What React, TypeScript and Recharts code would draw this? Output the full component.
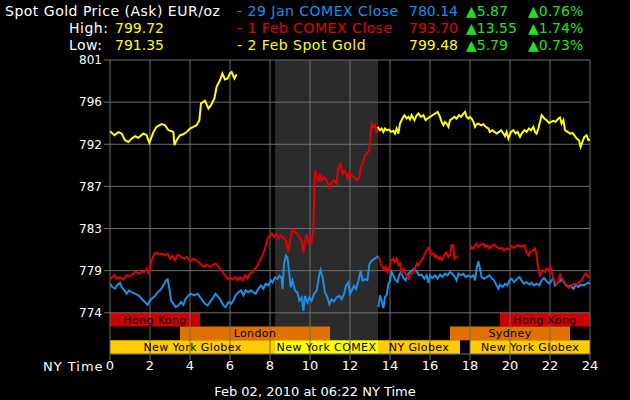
import React from "react";
import {
  ComposedChart,
  Line,
  XAxis,
  YAxis,
  ReferenceArea,
  ReferenceLine,
} from "recharts";

// hours (NY time) / EUR per oz
const blueEarly = [
  [0, 777.1], [0.12, 776.75], [0.25, 776.57], [0.38, 777.0], [0.5, 777.2], [0.58, 776.75],
  [0.72, 776.4], [0.83, 776.04], [0.95, 776.4], [1.08, 776.2], [1.25, 776.04], [1.42, 775.86],
  [1.58, 775.5], [1.75, 775.14], [1.88, 774.86], [2.0, 775.32], [2.12, 775.57], [2.25, 775.79],
  [2.38, 776.2], [2.5, 776.4], [2.62, 776.75], [2.72, 777.1], [2.8, 777.46], [2.88, 777.57],
  [2.97, 776.57], [3.05, 775.32], [3.17, 774.96], [3.28, 774.6], [3.42, 774.78], [3.55, 775.14],
  [3.67, 774.86], [3.78, 775.5], [3.92, 775.86], [4.05, 776.04], [4.22, 775.86], [4.38, 776.04],
  [4.5, 775.68], [4.62, 775.32], [4.75, 774.96], [4.88, 774.79], [5.0, 775.14], [5.17, 775.68],
  [5.28, 776.04], [5.42, 775.68], [5.55, 775.32], [5.67, 774.79], [5.78, 774.6], [5.92, 775.14],
  [6.05, 774.96], [6.17, 775.32], [6.28, 775.86], [6.42, 776.2], [6.55, 776.4], [6.67, 775.86],
  [6.78, 776.4], [6.92, 776.2], [7.05, 776.4], [7.17, 776.2], [7.28, 776.04], [7.42, 776.57],
  [7.55, 776.93], [7.67, 776.57], [7.78, 777.1], [7.92, 776.93], [8.05, 777.46], [8.13, 777.25],
  [8.25, 777.78], [8.37, 777.6], [8.47, 777.96], [8.58, 777.78], [8.63, 776.53], [8.7, 779.2],
  [8.8, 780.1], [8.87, 779.92], [8.97, 778.14], [9.03, 776.71], [9.13, 777.43], [9.25, 776.36],
  [9.37, 776.18], [9.47, 775.29], [9.58, 775.64], [9.67, 774.21], [9.75, 775.82], [9.87, 775.1],
  [9.97, 775.64], [10.08, 775.29], [10.2, 776.0], [10.33, 776.36], [10.47, 778.14], [10.53, 778.57],
  [10.63, 777.78], [10.75, 776.18], [10.87, 775.64], [10.97, 774.93], [11.08, 775.46], [11.2, 775.21],
  [11.33, 775.64], [11.47, 775.82], [11.58, 775.46], [11.7, 776.0], [11.8, 776.89], [11.92, 777.25],
  [12.0, 776.0], [12.08, 776.36], [12.2, 776.89], [12.3, 776.53], [12.42, 777.43], [12.53, 778.5],
  [12.63, 777.43], [12.75, 777.6], [12.87, 777.5], [12.97, 779.2], [13.08, 779.57], [13.2, 779.75],
  [13.33, 779.92], [13.42, 780.1],
];

const blueLate = [
  [13.42, 774.6], [13.5, 775.86], [13.58, 775.32], [13.67, 774.5], [13.75, 775.68], [13.83, 775.86],
  [13.92, 777.1], [14.0, 777.46], [14.08, 778.36], [14.17, 778.0], [14.28, 777.46], [14.38, 777.29],
  [14.45, 778.0], [14.55, 778.36], [14.67, 777.71], [14.78, 777.46], [14.88, 778.07], [15.0, 778.36],
  [15.12, 778.54], [15.22, 778.71], [15.33, 778.43], [15.45, 778.0], [15.58, 778.07], [15.72, 777.64],
  [15.83, 778.0], [15.92, 777.21], [16.0, 778.0], [16.12, 777.71], [16.25, 778.0], [16.38, 777.64],
  [16.5, 778.07], [16.62, 777.82], [16.75, 778.18], [16.88, 778.0], [17.0, 778.36], [17.12, 778.18],
  [17.25, 777.82], [17.33, 777.46], [17.42, 778.18], [17.55, 778.0], [17.67, 778.18], [17.78, 777.82],
  [17.92, 778.0], [18.05, 777.82], [18.17, 778.0], [18.25, 777.46], [18.33, 778.71], [18.42, 779.5],
  [18.5, 778.71], [18.58, 777.82], [18.7, 777.64], [18.83, 777.82], [18.97, 778.0], [19.08, 777.71],
  [19.2, 777.46], [19.33, 776.93], [19.42, 776.57], [19.5, 777.0], [19.63, 776.75], [19.75, 777.1],
  [19.87, 776.93], [19.97, 777.46], [20.08, 777.64], [20.2, 777.29], [20.33, 777.57], [20.47, 777.82],
  [20.58, 777.46], [20.7, 777.1], [20.83, 777.29], [20.97, 777.0], [21.08, 777.21], [21.2, 776.93],
  [21.33, 777.1], [21.47, 776.93], [21.58, 777.46], [21.7, 777.71], [21.83, 777.36], [21.97, 777.1],
  [22.08, 777.46], [22.17, 777.64], [22.25, 776.93], [22.37, 777.21], [22.5, 777.36], [22.58, 777.64],
  [22.67, 777.29], [22.8, 776.93], [22.92, 776.75], [23.03, 776.93], [23.17, 776.57], [23.3, 777.0],
  [23.42, 776.75], [23.53, 777.0], [23.67, 776.93], [23.8, 777.1], [23.92, 777.21], [24.0, 777.1],
];

const redEarly = [
  [0, 777.64], [0.12, 777.8], [0.22, 778.0], [0.33, 777.64], [0.5, 777.8], [0.67, 777.57],
  [0.83, 778.0], [1.0, 777.93], [1.17, 778.18], [1.28, 778.43], [1.42, 778.18], [1.58, 778.36],
  [1.75, 778.43], [1.83, 778.7], [1.92, 778.25], [2.0, 778.7], [2.08, 779.6], [2.22, 780.3],
  [2.33, 780.43], [2.5, 780.21], [2.62, 780.3], [2.75, 780.14], [2.88, 780.3], [3.0, 779.78],
  [3.12, 780.07], [3.25, 779.6], [3.38, 780.21], [3.55, 779.96], [3.72, 779.78], [3.83, 779.96],
  [4.0, 779.5], [4.17, 779.78], [4.42, 779.43], [4.58, 779.07], [4.72, 778.9], [4.83, 779.14],
  [5.0, 778.9], [5.17, 779.14], [5.28, 779.25], [5.38, 779.07], [5.5, 778.7], [5.62, 778.36],
  [5.75, 778.0], [5.88, 777.64], [6.0, 777.7], [6.12, 777.57], [6.25, 777.8], [6.38, 777.46],
  [6.5, 777.8], [6.62, 777.46], [6.75, 778.0], [6.88, 777.64], [7.0, 778.18], [7.12, 778.36],
  [7.25, 778.7], [7.38, 779.07], [7.5, 779.6], [7.62, 780.14], [7.75, 780.86], [7.88, 781.93],
  [8.0, 782.28], [8.08, 782.46], [8.22, 782.1], [8.3, 782.43], [8.42, 781.9], [8.53, 782.25],
  [8.67, 782.07], [8.8, 781.71], [8.92, 780.46], [9.03, 782.07], [9.13, 782.96], [9.25, 782.6],
  [9.37, 782.43], [9.47, 782.07], [9.58, 781.71], [9.67, 780.46], [9.75, 781.53], [9.83, 782.43],
  [9.92, 781.36], [10.0, 781.9], [10.08, 781.53], [10.17, 783.14], [10.25, 789.2], [10.33, 788.67],
  [10.42, 787.96], [10.5, 788.85], [10.58, 788.14], [10.7, 788.5], [10.83, 788.14], [10.97, 787.35],
  [11.08, 787.96], [11.2, 788.14], [11.33, 787.78], [11.42, 789.56], [11.53, 789.92], [11.63, 788.85],
  [11.75, 789.2], [11.87, 788.32], [11.97, 789.03], [12.08, 788.67], [12.2, 788.5], [12.33, 788.14],
  [12.47, 788.5], [12.53, 789.56], [12.63, 789.92], [12.75, 790.81], [12.87, 790.99], [12.97, 791.53],
  [13.08, 794.2], [13.17, 793.85], [13.25, 794.03], [13.33, 793.31], [13.42, 793.7],
];

const redMid = [
  [13.42, 779.96], [13.47, 779.78], [13.55, 779.07], [13.62, 778.9], [13.72, 778.54], [13.78, 778.9],
  [13.88, 778.36], [13.95, 778.71], [14.05, 779.6], [14.17, 779.78], [14.25, 779.43], [14.33, 779.78],
  [14.42, 779.07], [14.5, 779.25], [14.58, 778.36], [14.67, 778.71], [14.75, 778.18], [14.83, 778.0],
  [14.92, 777.64], [15.0, 778.0], [15.08, 778.18], [15.17, 778.36], [15.25, 778.71], [15.33, 779.25],
  [15.42, 779.07], [15.5, 779.43], [15.58, 779.6], [15.67, 779.96], [15.75, 780.32], [15.83, 780.68],
  [15.92, 780.93], [16.0, 780.68], [16.08, 780.21], [16.17, 780.32], [16.25, 779.96], [16.33, 780.07],
  [16.42, 779.78], [16.5, 779.96], [16.58, 779.6], [16.67, 779.96], [16.75, 780.32], [16.83, 780.43],
  [16.92, 779.96], [17.0, 780.14], [17.08, 781.21], [17.17, 781.21], [17.22, 779.78], [17.3, 779.96],
  [17.38, 779.86],
];

const redLate = [
  [18.0, 780.78], [18.08, 781.04], [18.17, 780.86], [18.25, 781.14], [18.33, 781.39], [18.42, 781.04],
  [18.55, 781.29], [18.67, 781.39], [18.75, 781.04], [18.87, 781.21], [18.97, 780.86], [19.08, 781.14],
  [19.2, 781.29], [19.33, 781.04], [19.47, 780.86], [19.58, 780.93], [19.7, 780.68], [19.83, 780.86],
  [19.97, 780.78], [20.08, 781.14], [20.2, 780.93], [20.33, 781.14], [20.47, 781.21], [20.58, 781.04],
  [20.7, 781.21], [20.83, 780.5], [20.92, 780.14], [21.03, 780.57], [21.17, 780.68], [21.25, 780.86],
  [21.33, 780.14], [21.42, 778.54], [21.5, 778.0], [21.63, 778.54], [21.75, 778.36], [21.83, 778.71],
  [21.92, 778.54], [22.03, 778.9], [22.13, 778.0], [22.2, 777.46], [22.3, 777.1], [22.42, 777.29],
  [22.5, 778.18], [22.58, 777.64], [22.67, 777.46], [22.75, 777.1], [22.87, 776.93], [22.97, 776.64],
  [23.08, 776.93], [23.2, 777.1], [23.33, 777.0], [23.47, 777.29], [23.58, 777.46], [23.7, 778.0],
  [23.8, 778.18], [23.92, 777.82], [24.0, 778.0],
];

const yellowEarly = [
  [0, 793.4], [0.22, 792.97], [0.42, 793.3], [0.58, 793.15], [0.75, 792.43], [0.92, 792.25],
  [1.08, 792.6], [1.25, 792.86], [1.42, 792.7], [1.67, 793.15], [1.83, 792.97], [1.97, 792.15],
  [2.17, 793.3], [2.33, 793.86], [2.58, 794.15], [2.75, 794.04], [2.92, 793.5], [3.08, 793.4],
  [3.17, 793.3], [3.22, 791.9], [3.33, 792.43], [3.5, 792.97], [3.67, 793.07], [3.83, 793.3],
  [4.0, 793.68], [4.17, 793.86], [4.33, 794.04], [4.47, 794.57], [4.55, 796.36], [4.75, 796.64],
  [4.92, 795.82], [5.05, 796.18], [5.22, 796.9], [5.33, 798.14], [5.5, 798.86], [5.62, 799.57],
  [5.75, 798.93], [5.88, 799.04], [6.0, 799.6], [6.08, 799.72], [6.22, 799.04], [6.33, 799.48],
];

const yellowLate = [
  [13.38, 793.86], [13.5, 793.5], [13.58, 793.68], [13.67, 793.32], [13.75, 793.68], [13.83, 793.5],
  [13.95, 793.57], [14.05, 793.32], [14.17, 793.43], [14.25, 793.14], [14.33, 793.68], [14.42, 793.14],
  [14.5, 794.21], [14.62, 794.75], [14.72, 795.1], [14.83, 794.75], [14.92, 794.93], [15.0, 794.64],
  [15.08, 795.1], [15.22, 794.57], [15.33, 795.1], [15.42, 795.28], [15.55, 794.93], [15.67, 795.1],
  [15.78, 794.57], [15.88, 794.75], [16.0, 794.93], [16.12, 795.1], [16.25, 795.28], [16.38, 795.46],
  [16.5, 794.93], [16.58, 794.39], [16.67, 794.03], [16.75, 794.39], [16.83, 794.21], [16.92, 793.86],
  [17.0, 794.57], [17.12, 794.75], [17.22, 794.93], [17.33, 794.75], [17.45, 795.1], [17.55, 794.93],
  [17.67, 795.28], [17.75, 795.46], [17.83, 794.93], [17.92, 794.75], [18.0, 794.93], [18.08, 794.75],
  [18.17, 794.39], [18.25, 793.86], [18.33, 794.14], [18.42, 794.21], [18.55, 794.03], [18.67, 794.14],
  [18.78, 793.86], [18.92, 793.68], [19.0, 793.32], [19.12, 793.5], [19.22, 793.32], [19.33, 793.14],
  [19.45, 793.32], [19.55, 793.5], [19.67, 793.14], [19.75, 792.86], [19.83, 793.32], [19.92, 792.61],
  [20.05, 793.32], [20.17, 793.5], [20.28, 793.14], [20.38, 793.32], [20.5, 792.79], [20.58, 793.14],
  [20.72, 793.5], [20.83, 793.32], [20.95, 793.68], [21.05, 793.5], [21.17, 793.86], [21.25, 793.32],
  [21.33, 793.14], [21.42, 793.68], [21.5, 794.39], [21.58, 795.1], [21.72, 794.75], [21.83, 794.57],
  [21.95, 794.28], [22.05, 794.39], [22.17, 794.5], [22.28, 794.39], [22.42, 794.75], [22.5, 794.86],
  [22.58, 794.21], [22.67, 794.57], [22.75, 793.5], [22.88, 793.32], [23.0, 793.14], [23.12, 793.21],
  [23.22, 792.96], [23.33, 792.61], [23.45, 792.43], [23.53, 791.71], [23.62, 792.25], [23.72, 792.79],
  [23.83, 792.96], [23.92, 792.43], [24.0, 792.5],
];

const xTicks = [0, 2, 4, 6, 8, 10, 12, 14, 16, 18, 20, 22, 24];
const yTicks = [774, 778.5, 783, 787.5, 792, 796.5, 801];
const yLabels = ["774", "779", "783", "787", "792", "796", "801"];

const comexHours = [8.25, 13.4];

// trading sessions: row 0 = Asia, 1 = Europe/Sydney, 2 = New York
const sessionNames = ["Hong Kong", "Hong Kong", "London", "Sydney", "New York Globex", "New York COMEX", "NY Globex", "New York Globex"];
const sessionFrom = [0, 19.5, 3.5, 17, 0, 8.25, 13.4, 18];
const sessionTo = [4.5, 24, 11, 23, 8.25, 13.4, 17.5, 24];
const sessionRow = [0, 0, 1, 1, 2, 2, 2, 2];

const legendNames = ["29 Jan COMEX Close", "1 Feb COMEX Close", "2 Feb Spot Gold"];
const legendPrices = ["780.14", "793.70", "799.48"];
const legendChanges = ["5.87", "13.55", "5.79"];
const legendPcts = ["0.76%", "1.74%", "0.73%"];
const high = "799.72";
const low = "791.35";

const BLUE = "#1b8fe6";
const RED = "#e00000";
const YELLOW = "#ffff00";
const GREEN = "#22e022";
const GRID = "#6e6e6e";
const legendColors = [BLUE, RED, YELLOW];

const sessionFill = (name: string, row: number) => {
  if (name === "New York COMEX") return "#ffff00";
  if (row === 0) return "#cc0000";
  if (row === 1) return "#e07000";
  return "#ffcc00";
};

const Y_MIN = 769.6;
const ROW_H = (774 - Y_MIN) / 3;

const pts = (a: number[][]) => a.map(([h, v]) => ({ h, v }));

const font = '"DejaVu Sans", Verdana, sans-serif';

function Txt({ x, y, color, children, size = 14, spacing = 0.5 }: any) {
  return (
    <div
      style={{
        position: "absolute",
        left: x,
        top: y - 8,
        lineHeight: "16px",
        fontSize: size,
        letterSpacing: spacing,
        color,
        whiteSpace: "nowrap",
      }}
    >
      {children}
    </div>
  );
}

export default function App() {
  const series = [
    { d: blueEarly, c: BLUE },
    { d: blueLate, c: BLUE },
    { d: redEarly, c: RED },
    { d: redMid, c: RED },
    { d: redLate, c: RED },
    { d: yellowEarly, c: YELLOW },
    { d: yellowLate, c: YELLOW },
  ];

  return (
    <div
      style={{
        position: "absolute",
        left: 0,
        top: 0,
        width: 630,
        height: 400,
        background: "#000",
        fontFamily: font,
        overflow: "hidden",
      }}
    >
      <ComposedChart
        width={630}
        height={400}
        margin={{ top: 60, right: 40, bottom: 0, left: 60 }}
        style={{ position: "absolute", left: 0, top: 0 }}
      >
        <XAxis
          type="number"
          dataKey="h"
          domain={[0, 24]}
          ticks={xTicks}
          interval={0}
          height={46}
          tickSize={6}
          tickMargin={1}
          axisLine={{ stroke: GRID }}
          tickLine={{ stroke: GRID }}
          tick={{ fill: "#fff", fontSize: 13, fontFamily: font }}
          allowDataOverflow
        />
        <YAxis
          type="number"
          domain={[Y_MIN, 801]}
          ticks={yTicks}
          interval={0}
          width={50}
          tickSize={6}
          tickMargin={2}
          axisLine={false}
          tickLine={{ stroke: GRID }}
          tick={{ fill: "#fff", fontSize: 12, fontFamily: font }}
          tickFormatter={(v: number) => yLabels[yTicks.indexOf(v)] ?? ""}
          allowDataOverflow
        />
        <ReferenceArea
          x1={comexHours[0]}
          x2={comexHours[1]}
          y1={774 - 2 * ROW_H}
          y2={801}
          fill="#2b2b2b"
          fillOpacity={1}
          stroke="none"
        />
        {sessionNames.map((name, i) => {
          const top = 774 - sessionRow[i] * ROW_H;
          return (
            <ReferenceArea
              key={"s" + i}
              x1={sessionFrom[i]}
              x2={sessionTo[i]}
              y1={top - ROW_H}
              y2={top}
              fill={sessionFill(name, sessionRow[i])}
              fillOpacity={1}
              stroke="none"
              label={{ value: name, position: "center", fill: "#000", fontSize: 11, fontFamily: font, letterSpacing: 0.4 }}
            />
          );
        })}
        {yTicks.map((t) => (
          <ReferenceLine key={"gy" + t} y={t} stroke={GRID} strokeWidth={1} />
        ))}
        {xTicks.map((t) => (
          <ReferenceLine key={"gx" + t} x={t} stroke={GRID} strokeWidth={1} />
        ))}
        {series.map((s, i) => (
          <Line
            key={"l" + i}
            data={pts(s.d)}
            dataKey="v"
            type="linear"
            stroke={s.c}
            strokeWidth={2}
            dot={false}
            activeDot={false}
            isAnimationActive={false}
          />
        ))}
      </ComposedChart>

      <Txt x={5} y={11} color="#fff">
        Spot Gold Price (Ask) EUR/oz
      </Txt>
      <Txt x={69} y={28} color="#fff">
        High:
      </Txt>
      <Txt x={115} y={28} color={YELLOW} spacing={0}>
        {high}
      </Txt>
      <Txt x={69} y={45} color="#fff">
        Low:
      </Txt>
      <Txt x={115} y={45} color={YELLOW} spacing={0}>
        {low}
      </Txt>
      {legendNames.map((n, i) => (
        <React.Fragment key={n}>
          <Txt x={237} y={11 + i * 17} color={legendColors[i]}>
            {"- " + n}
          </Txt>
          <Txt x={409} y={11 + i * 17} color={legendColors[i]} spacing={0}>
            {legendPrices[i]}
          </Txt>
          <Txt x={466} y={11 + i * 17} color={GREEN} spacing={0}>
            {"▲" + legendChanges[i]}
          </Txt>
          <Txt x={528} y={11 + i * 17} color={GREEN} spacing={0}>
            {"▲" + legendPcts[i]}
          </Txt>
        </React.Fragment>
      ))}
      <Txt x={43} y={367} color="#fff" size={13} spacing={1}>
        NY Time
      </Txt>
      <div
        style={{
          position: "absolute",
          left: 0,
          width: 630,
          top: 384,
          lineHeight: "16px",
          textAlign: "center",
          fontSize: 13,
          color: "#fff",
        }}
      >
        Feb 02, 2010 at 06:22 NY Time
      </div>
    </div>
  );
}
